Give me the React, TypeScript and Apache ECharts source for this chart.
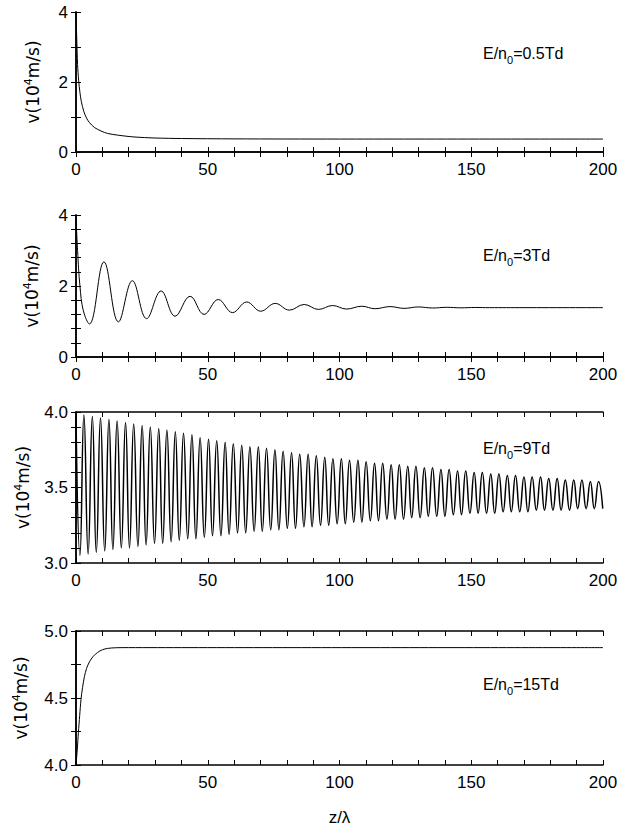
import React, { useEffect, useRef } from 'react';
import * as echarts from 'echarts';

// ---------- data ----------
const zRange = [0, 200];
const zTickStep = 10;
const zLabelStep = 50;
const panelLabels = ['E/n{sub|0}=0.5Td', 'E/n{sub|0}=3Td', 'E/n{sub|0}=9Td', 'E/n{sub|0}=15Td'];
const yRanges = [[0, 4], [0, 4], [3, 4], [4, 5]];
const yTickSteps = [1, 0.4, 0.1, 0.25];
const yLabelSteps = [2, 2, 0.5, 0.5];
const yDecimals = [0, 0, 1, 1];

// E/n0 = 0.5 Td : monotonic decay
const curve1: [number, number][] = [
  [0, 4.0], [0.3, 3.2], [0.6, 2.5], [1, 2.05], [1.5, 1.7], [2, 1.45], [3, 1.15], [4, 0.97],
  [5, 0.85], [7, 0.7], [9.5, 0.6], [12, 0.53], [16, 0.48], [22, 0.43], [30, 0.4], [40, 0.385],
  [60, 0.375], [100, 0.37], [200, 0.37],
];

// E/n0 = 3 Td : damped oscillation
const curve2: [number, number][] = [
  [0, 3.95], [0.6, 3.0], [1.5, 2.0], [2.8, 1.3], [5.1, 0.93], [10.6, 2.68], [16.1, 0.99],
  [21.4, 2.15], [26.8, 1.08], [32.3, 1.86], [37.6, 1.15], [43.3, 1.71], [48.6, 1.2], [54.0, 1.62],
  [59.4, 1.25], [64.8, 1.55], [70.1, 1.29], [75.6, 1.51], [81.0, 1.32], [86.6, 1.48], [92.0, 1.34],
  [97.4, 1.45], [102.7, 1.35], [108.4, 1.43], [113.5, 1.36], [119.2, 1.42], [124.5, 1.37],
  [129.9, 1.41], [135.4, 1.38], [140.7, 1.4], [146.1, 1.385], [151.5, 1.395], [156.9, 1.39],
  [170, 1.39], [200, 1.39],
];

// E/n0 = 9 Td : slowly damped fast oscillation (extrema)
const curve3: [number, number][] = [
  [0, 3.97], [1.5, 3.05], [3.0, 3.98], [4.6, 3.06], [6.2, 3.97], [7.7, 3.07], [9.3, 3.96],
  [10.9, 3.08], [12.5, 3.95], [14.0, 3.09], [15.6, 3.94], [17.2, 3.10], [18.8, 3.93], [20.3, 3.10],
  [21.9, 3.92], [23.5, 3.11], [25.1, 3.91], [26.6, 3.12], [28.2, 3.90], [29.8, 3.13], [31.4, 3.89],
  [32.9, 3.13], [34.5, 3.88], [36.1, 3.14], [37.7, 3.87], [39.2, 3.15], [40.8, 3.86], [42.4, 3.16],
  [44.0, 3.85], [45.5, 3.16], [47.1, 3.83], [48.7, 3.17], [50.3, 3.82], [51.8, 3.18], [53.4, 3.81],
  [55.0, 3.18], [56.6, 3.80], [58.1, 3.19], [59.7, 3.79], [61.3, 3.20], [62.9, 3.78], [64.4, 3.20],
  [66.0, 3.77], [67.6, 3.21], [69.2, 3.77], [70.7, 3.21], [72.3, 3.76], [73.9, 3.22], [75.5, 3.75],
  [77.0, 3.22], [78.6, 3.74], [80.2, 3.23], [81.8, 3.73], [83.3, 3.23], [84.9, 3.72], [86.5, 3.24],
  [88.1, 3.72], [89.6, 3.24], [91.2, 3.71], [92.8, 3.25], [94.4, 3.70], [95.9, 3.25], [97.5, 3.69],
  [99.1, 3.26], [100.7, 3.69], [102.2, 3.26], [103.8, 3.68], [105.4, 3.27], [107.0, 3.68],
  [108.5, 3.27], [110.1, 3.67], [111.7, 3.28], [113.3, 3.66], [114.8, 3.28], [116.4, 3.66],
  [118.0, 3.29], [119.6, 3.65], [121.1, 3.29], [122.7, 3.65], [124.3, 3.29], [125.9, 3.64],
  [127.4, 3.30], [129.0, 3.64], [130.6, 3.30], [132.2, 3.63], [133.7, 3.31], [135.3, 3.63],
  [136.9, 3.31], [138.5, 3.62], [140.0, 3.31], [141.6, 3.62], [143.2, 3.32], [144.8, 3.61],
  [146.3, 3.32], [147.9, 3.61], [149.5, 3.33], [151.1, 3.60], [152.6, 3.33], [154.2, 3.60],
  [155.8, 3.33], [157.4, 3.59], [158.9, 3.33], [160.5, 3.59], [162.1, 3.34], [163.7, 3.58],
  [165.2, 3.34], [166.8, 3.58], [168.4, 3.34], [170.0, 3.57], [171.5, 3.34], [173.1, 3.57],
  [174.7, 3.35], [176.3, 3.57], [177.8, 3.35], [179.4, 3.56], [181.0, 3.35], [182.6, 3.56],
  [184.1, 3.35], [185.7, 3.55], [187.3, 3.35], [188.9, 3.55], [190.4, 3.36], [192.0, 3.55],
  [193.6, 3.36], [195.2, 3.54], [196.7, 3.36], [198.3, 3.54], [199.9, 3.36],
];

// E/n0 = 15 Td : fast rise to plateau
const curve4: [number, number][] = [
  [0, 4.0], [0.5, 4.12], [0.9, 4.24], [1.4, 4.37], [1.9, 4.49], [2.5, 4.58], [3.2, 4.66],
  [4, 4.72], [5.1, 4.77], [6.5, 4.81], [8.2, 4.84], [10, 4.86], [12, 4.87], [15, 4.875],
  [20, 4.876], [200, 4.876],
];

const curves = [curve1, curve2, curve3, curve4];
const smoothing = [0.3, 0.4, 0.5, 0.3];

// ---------- layout ----------
const gridTops = [12, 215, 412, 631];
const gridHeights = [140, 142, 151, 134];
const nameGaps = [33, 34, 43, 45];
const labelTops = [42, 244, 437, 673];
const lineWidths = [1, 1, 1.5, 1];

const SANS = "'Liberation Sans', Arial, sans-serif";
const WIDE = "'DejaVu Sans', 'Liberation Sans', sans-serif";

const onStep = (v: number, step: number) => Math.abs(v / step - Math.round(v / step)) < 1e-6;

export default function App() {
  const ref = useRef<HTMLDivElement>(null);
  useEffect(() => {
    if (!ref.current) return;
    const chart = echarts.init(ref.current, undefined, { renderer: 'svg' });
    const mkLine = () => ({ show: true, lineStyle: { color: '#000', width: 1.5 } });
    const mkTick = () => ({ show: true, inside: true, length: 5, lineStyle: { color: '#000', width: 1 } });
    const grid: any[] = [];
    const xAxis: any[] = [];
    const yAxis: any[] = [];
    const series: any[] = [];
    const title: any[] = [];
    for (let i = 0; i < 4; i++) {
      grid.push({ left: 76, right: 36, top: gridTops[i], height: gridHeights[i] });
      const xBase = () => ({
        type: 'value', gridIndex: i, min: zRange[0], max: zRange[1], interval: zTickStep,
        axisLine: mkLine(), axisTick: mkTick(), splitLine: { show: false },
      });
      xAxis.push({
        ...xBase(), position: 'bottom',
        axisLabel: {
          show: true, margin: 9, fontFamily: SANS, fontSize: 17, color: '#000',
          formatter: (v: number) => (onStep(v, zLabelStep) ? String(v) : ''),
        },
        ...(i === 3 ? {
          name: 'z/λ', nameLocation: 'middle', nameGap: 44,
          nameTextStyle: { fontFamily: SANS, fontSize: 17, color: '#000' },
        } : {}),
      });
      xAxis.push({ ...xBase(), position: 'top', axisLabel: { show: false } });
      const dec = yDecimals[i];
      const lstep = yLabelSteps[i];
      const yBase = () => ({
        type: 'value', gridIndex: i, min: yRanges[i][0], max: yRanges[i][1], interval: yTickSteps[i],
        axisLine: mkLine(), axisTick: mkTick(), splitLine: { show: false },
      });
      yAxis.push({
        ...yBase(), position: 'left',
        axisLabel: {
          show: true, margin: 8, fontFamily: SANS, fontSize: 17, color: '#000',
          formatter: (v: number) => (onStep(v, lstep) ? v.toFixed(dec) : ''),
        },
        name: 'v(10{sup|4}m/s)', nameLocation: 'middle', nameGap: nameGaps[i],
        nameTextStyle: {
          fontFamily: WIDE, fontSize: 17, color: '#000',
          rich: { sup: { fontFamily: WIDE, fontSize: 11, color: '#000', padding: [0, 0, 9, 0] } },
        },
      });
      yAxis.push({ ...yBase(), position: 'right', axisLabel: { show: false } });
      series.push({
        type: 'line', xAxisIndex: 2 * i, yAxisIndex: 2 * i, data: curves[i],
        showSymbol: false, smooth: smoothing[i], lineStyle: { color: '#000', width: lineWidths[i] },
      });
      title.push({
        text: panelLabels[i], left: 483, top: labelTops[i], padding: 0,
        textStyle: {
          fontFamily: SANS, fontSize: 16, fontWeight: 'normal', color: '#000',
          rich: { sub: { fontFamily: SANS, fontSize: 11, color: '#000', padding: [12, 0, 0, 0] } },
        },
      });
    }
    chart.setOption({ animation: false, backgroundColor: '#fff', grid, xAxis, yAxis, series, title });
    return () => chart.dispose();
  }, []);
  return <div ref={ref} style={{ position: 'fixed', left: 0, top: 0, width: 639, height: 836 }} />;
}
